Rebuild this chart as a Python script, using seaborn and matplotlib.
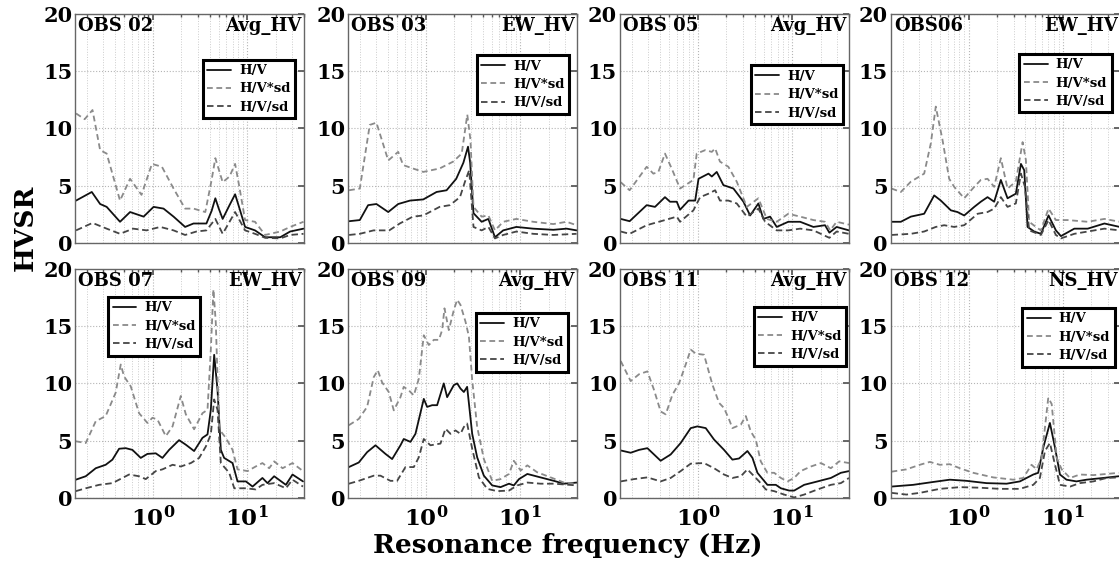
import numpy as np
import pandas as pd
import matplotlib
matplotlib.use("Agg")
import matplotlib.pyplot as plt
import seaborn as sns
from matplotlib.ticker import FixedLocator, FixedFormatter, LogLocator, NullFormatter

# ---------------- data (frequency Hz, HVSR) ----------------
stations = ["OBS 02", "OBS 03", "OBS 05", "OBS06", "OBS 07", "OBS 09", "OBS 11", "OBS 12"]
components = ["Avg_HV", "EW_HV", "Avg_HV", "EW_HV", "EW_HV", "Avg_HV", "Avg_HV", "NS_HV"]
series_labels = ["H/V", "H/V*sd", "H/V/sd"]
y_ticks = [0, 5, 10, 15, 20]
x_ticks = [1, 10]
x_tick_labels = [r"$\mathbf{10^{0}}$", r"$\mathbf{10^{1}}$"]

obs02_hv = [(0.154,3.7),(0.226,4.45),(0.277,3.4),(0.325,3.15),(0.45,1.85),(0.575,2.7),(0.80,2.3),(1.02,3.15),(1.3,3.0),(1.66,2.3),(2.2,1.4),(2.7,1.7),(3.7,1.7),(4.2,2.8),(4.6,3.9),(5.0,3.0),(5.5,2.1),(6.5,3.3),(7.45,4.25),(8.3,3.0),(9.5,1.4),(12.1,1.1),(15.5,0.5),(22.4,0.5),(28.5,1.0),(39.5,1.25)]
obs02_hvsd = [(0.154,11.3),(0.19,10.8),(0.23,11.6),(0.277,8.1),(0.325,7.8),(0.45,3.7),(0.575,5.6),(0.76,4.2),(0.98,6.9),(1.25,6.65),(1.66,4.75),(2.2,3.0),(2.7,3.0),(3.6,2.7),(4.2,5.5),(4.6,7.4),(5.5,5.3),(6.5,5.8),(7.45,6.9),(8.3,4.8),(9.5,2.0),(12.1,1.85),(15.5,0.7),(22.4,1.0),(28.5,1.4),(39.5,1.85)]
obs02_hvdsd = [(0.154,1.1),(0.23,1.75),(0.325,1.25),(0.45,0.8),(0.62,1.25),(0.86,1.1),(1.2,1.4),(1.66,1.1),(2.2,0.7),(2.9,1.0),(3.7,1.1),(4.6,2.1),(5.5,0.8),(7.45,2.7),(9.5,1.1),(12.1,0.8),(15.5,0.45),(22.4,0.4),(28.5,0.7),(39.5,0.8)]

obs03_hv = [(0.154,1.9),(0.2,2.0),(0.245,3.3),(0.3,3.4),(0.4,2.7),(0.51,3.4),(0.68,3.7),(0.94,3.8),(1.3,4.45),(1.66,4.6),(2.1,5.6),(2.5,7.0),(2.8,8.4),(2.95,7.0),(3.2,2.6),(3.9,1.85),(4.6,2.1),(5.4,0.5),(6.6,1.1),(9.1,1.4),(13.7,1.25),(22.4,1.15),(31,1.25),(39.5,1.1)]
obs03_hvsd = [(0.154,4.6),(0.2,4.75),(0.255,10.3),(0.3,10.5),(0.4,7.2),(0.51,7.95),(0.575,6.8),(0.73,6.5),(0.94,6.2),(1.4,6.5),(1.95,7.1),(2.4,7.8),(2.75,11.2),(2.97,9.0),(3.2,3.15),(3.9,2.3),(4.6,2.4),(5.4,1.1),(6.6,1.85),(9.1,2.1),(13.7,1.85),(22.4,1.65),(31,1.85),(39.5,1.55)]
obs03_hvdsd = [(0.154,0.7),(0.2,0.8),(0.28,1.1),(0.41,1.1),(0.53,1.7),(0.73,2.3),(0.94,2.4),(1.4,3.15),(1.8,3.3),(2.3,4.0),(2.6,5.35),(2.88,6.35),(3.2,1.4),(3.9,1.1),(4.6,1.4),(5.4,0.4),(6.6,0.7),(9.1,1.0),(13.7,0.8),(22.4,0.7),(39.5,0.8)]

obs05_hv = [(0.153,2.1),(0.19,1.9),(0.288,3.3),(0.353,3.15),(0.45,4.0),(0.509,3.6),(0.6,3.6),(0.65,2.9),(0.8,3.7),(0.94,3.7),(1.02,5.6),(1.3,6.05),(1.41,5.8),(1.59,6.2),(1.87,5.05),(2.39,4.75),(3.05,3.6),(3.59,2.4),(4.39,3.45),(4.96,2.1),(5.84,2.3),(6.87,1.4),(9.1,1.85),(12.15,1.85),(16.8,1.4),(22.3,1.55),(24.8,0.9),(29.6,1.4),(40,1.1)]
obs05_hvsd = [(0.153,5.3),(0.19,4.6),(0.288,6.65),(0.339,6.05),(0.383,6.2),(0.45,7.8),(0.53,6.5),(0.65,4.75),(0.9,5.5),(0.976,7.8),(1.2,8.1),(1.41,7.95),(1.53,8.25),(1.72,7.1),(2.11,6.65),(2.59,5.35),(3.31,3.15),(4.39,3.9),(5.39,2.1),(6.87,1.85),(9.1,2.55),(12.15,2.3),(16.8,2.0),(22.3,1.85),(25.3,1.1),(29.6,1.85),(40,1.6)]
obs05_hvdsd = [(0.153,1.0),(0.19,0.8),(0.288,1.55),(0.45,2.0),(0.6,2.3),(0.65,1.85),(0.9,2.85),(1.06,4.0),(1.3,4.3),(1.53,4.6),(1.72,3.7),(2.11,3.7),(2.59,3.45),(3.31,2.3),(4.39,3.0),(5.17,1.85),(6.87,1.1),(9.1,1.1),(12.15,1.25),(16.8,1.1),(24.8,0.45),(29.6,1.0),(40,0.8)]

obs06_hv = [(0.153,1.85),(0.192,1.85),(0.245,2.3),(0.339,2.55),(0.433,4.15),(0.509,3.7),(0.65,2.85),(0.764,2.7),(0.9,2.4),(1.15,3.15),(1.35,3.6),(1.59,4.0),(1.87,3.6),(2.2,5.5),(2.59,3.9),(3.17,4.3),(3.59,6.9),(3.89,6.35),(4.22,1.4),(4.96,1.0),(5.84,0.8),(7.04,2.4),(8.42,1.1),(9.52,0.6),(13.2,1.25),(18.3,1.25),(27.5,1.7),(40,1.4)]
obs06_hvsd = [(0.153,4.75),(0.192,4.45),(0.245,5.35),(0.339,6.05),(0.399,8.7),(0.45,11.9),(0.53,9.0),(0.624,5.6),(0.705,4.9),(0.9,3.9),(1.15,4.9),(1.35,5.5),(1.59,5.6),(1.87,4.9),(2.2,7.4),(2.59,4.75),(3.17,5.35),(3.74,8.8),(4.05,7.25),(4.39,1.85),(5.17,1.4),(5.84,1.1),(7.04,3.0),(8.42,2.0),(11.2,2.0),(18.3,1.85),(27.5,2.1),(40,1.85)]
obs06_hvdsd = [(0.153,0.7),(0.245,0.8),(0.339,1.0),(0.45,1.4),(0.552,1.55),(0.705,1.4),(0.9,1.55),(1.25,2.55),(1.59,2.7),(1.87,3.0),(2.2,4.0),(2.59,3.15),(3.17,3.45),(3.59,6.05),(3.96,4.9),(4.39,1.1),(5.84,0.7),(7.04,2.0),(8.42,0.7),(9.52,0.4),(13.2,0.8),(18.3,1.0),(27.5,1.25),(40,1.1)]

obs07_hv = [(0.153,1.6),(0.195,1.9),(0.249,2.6),(0.317,2.9),(0.374,3.35),(0.44,4.3),(0.517,4.35),(0.609,4.2),(0.746,3.5),(0.878,3.85),(1.076,3.9),(1.266,3.5),(1.49,4.2),(1.9,5.05),(2.24,4.65),(2.74,4.1),(3.36,5.25),(3.8,5.55),(4.12,7.7),(4.47,12.5),(4.85,9.45),(5.26,4.2),(5.7,3.5),(7.0,3.05),(7.9,1.45),(9.7,1.45),(11.4,1.0),(14.5,1.75),(16.4,1.3),(19.3,1.9),(25.7,1.15),(30.2,2.05),(39,1.45)]
obs07_hvsd = [(0.153,4.95),(0.195,4.8),(0.249,6.7),(0.317,7.15),(0.405,9.2),(0.458,11.65),(0.497,10.6),(0.584,9.75),(0.716,7.4),(0.878,6.55),(0.992,7.0),(1.12,6.85),(1.374,5.4),(1.62,6.25),(1.98,8.9),(2.24,7.3),(2.74,6.0),(3.36,7.4),(3.8,7.7),(4.12,12.95),(4.39,18.2),(4.65,15.3),(5.05,6.0),(5.94,5.25),(7.0,4.2),(7.9,2.5),(10.1,2.35),(12.3,2.75),(14.5,3.05),(17.1,2.6),(19.3,3.2),(23.7,2.6),(30.2,3.05),(39,2.35)]
obs07_hvdsd = [(0.153,0.6),(0.195,0.85),(0.27,1.15),(0.374,1.3),(0.44,1.6),(0.561,2.05),(0.716,1.9),(0.843,1.65),(1.076,2.35),(1.266,2.5),(1.62,2.9),(1.98,2.75),(2.53,3.05),(3.1,3.5),(3.65,4.5),(4.12,5.55),(4.47,8.6),(4.85,7.7),(5.26,3.05),(6.45,2.2),(7.3,0.85),(9.7,0.85),(12.3,0.75),(14.5,1.15),(19.3,1.3),(25.7,0.85),(30.2,1.6),(39,1.0)]

obs09_hv = [(0.153,2.7),(0.195,3.1),(0.239,4.0),(0.293,4.6),(0.374,3.85),(0.44,3.4),(0.539,4.6),(0.584,5.15),(0.688,4.9),(0.777,5.6),(0.952,8.65),(1.033,7.95),(1.167,8.1),(1.318,8.1),(1.55,10.0),(1.683,8.8),(1.98,9.85),(2.15,10.0),(2.33,9.55),(2.53,9.25),(2.74,9.7),(3.1,5.6),(3.5,3.55),(4.12,1.95),(5.05,1.1),(6.19,0.95),(7.6,1.25),(8.56,1.1),(9.7,1.65),(11.9,2.1),(16.4,1.8),(22.7,1.5),(29,1.25),(40,1.35)]
obs09_hvsd = [(0.153,6.35),(0.195,6.9),(0.239,7.95),(0.281,10.55),(0.31,11.15),(0.344,10.1),(0.405,9.25),(0.458,7.65),(0.539,8.8),(0.584,9.7),(0.66,9.4),(0.746,8.95),(0.843,10.4),(0.952,14.2),(1.076,13.35),(1.216,13.8),(1.374,13.8),(1.49,14.65),(1.577,16.55),(1.753,14.65),(1.98,16.4),(2.15,17.3),(2.33,16.85),(2.63,15.4),(2.86,14.1),(3.1,10.3),(3.5,6.2),(4.12,3.4),(5.05,1.5),(6.19,1.65),(7.6,2.1),(8.56,3.25),(10.1,2.4),(11.9,2.85),(15.1,2.25),(21,1.8),(29,1.35),(40,1.25)]
obs09_hvdsd = [(0.153,1.25),(0.195,1.5),(0.281,1.95),(0.331,1.95),(0.422,1.5),(0.497,1.5),(0.609,2.7),(0.746,2.7),(0.843,3.55),(0.952,5.15),(1.12,4.6),(1.43,4.75),(1.616,6.05),(1.826,5.6),(2.06,5.9),(2.33,5.6),(2.53,6.2),(2.74,6.5),(3.1,4.3),(3.65,1.8),(4.47,0.8),(5.7,0.6),(7.6,0.65),(9.3,1.1),(11.9,1.35),(16.4,1.25),(22.7,1.25),(40,1.1)]

obs11_hv = [(0.153,4.15),(0.195,3.95),(0.239,4.2),(0.293,4.35),(0.405,3.25),(0.517,3.8),(0.66,4.8),(0.843,6.1),(0.992,6.25),(1.216,6.1),(1.49,5.1),(1.9,4.2),(2.33,3.35),(2.74,3.45),(3.36,4.1),(3.8,3.5),(4.29,2.2),(5.47,1.15),(6.72,1.15),(7.6,0.85),(9.3,0.65),(10.5,0.65),(13.4,1.15),(18.6,1.45),(25.7,1.75),(32.8,2.2),(40,2.35)]
obs11_hvsd = [(0.153,11.95),(0.195,10.2),(0.239,10.8),(0.293,11.05),(0.344,9.45),(0.405,7.55),(0.458,7.3),(0.539,9.0),(0.634,10.0),(0.746,11.65),(0.843,12.95),(0.952,12.6),(1.167,12.5),(1.43,9.9),(1.683,8.3),(1.9,7.85),(2.15,6.85),(2.33,6.1),(2.86,6.4),(3.23,7.15),(3.65,5.8),(4.12,5.1),(4.65,3.2),(5.47,2.2),(6.45,2.2),(7.6,1.75),(8.94,1.45),(10.5,1.75),(12.3,2.35),(15.8,2.75),(20.2,3.05),(25.7,2.6),(31.5,3.2),(40,3.05)]
obs11_hvdsd = [(0.153,1.45),(0.211,1.65),(0.293,1.8),(0.405,1.45),(0.517,1.75),(0.66,2.35),(0.843,3.0),(1.167,3.05),(1.49,2.6),(1.9,2.05),(2.33,1.75),(2.86,1.9),(3.36,2.5),(3.8,2.05),(4.47,1.45),(5.26,0.75),(6.45,0.6),(8.24,0.3),(10.5,0.05),(13.4,0.3),(18.6,0.75),(25.7,1.15),(32.8,1.3),(40,1.75)]

obs12_hv = [(0.153,1.0),(0.259,1.15),(0.422,1.4),(0.634,1.6),(0.952,1.5),(1.55,1.3),(2.53,1.25),(3.5,1.45),(4.12,1.75),(4.85,2.05),(5.47,2.2),(6.19,4.4),(7.28,6.55),(8.24,4.4),(9.3,2.05),(10.9,1.6),(13.9,1.45),(17.8,1.6),(26.7,1.75),(39,1.9)]
obs12_hvsd = [(0.153,2.3),(0.22,2.5),(0.305,2.9),(0.389,3.15),(0.497,2.9),(0.634,2.95),(0.809,2.6),(1.12,2.2),(1.826,1.8),(2.97,1.6),(3.8,1.75),(4.65,2.9),(5.26,2.5),(5.94,3.5),(6.99,8.75),(7.6,8.2),(8.6,3.5),(9.7,2.5),(11.9,1.75),(15.1,2.05),(21,2.0),(29,2.1),(39,2.2)]
obs12_hvdsd = [(0.153,0.45),(0.22,0.3),(0.305,0.45),(0.497,0.8),(0.809,0.95),(1.318,0.9),(2.15,0.8),(3.5,0.8),(4.85,1.15),(5.7,1.75),(6.45,4.1),(7.28,4.8),(8.24,2.9),(9.3,1.15),(11.9,1.0),(15.1,1.3),(21,1.45),(29,1.75),(39,1.8)]

panel_series = [
    (obs02_hv, obs02_hvsd, obs02_hvdsd),
    (obs03_hv, obs03_hvsd, obs03_hvdsd),
    (obs05_hv, obs05_hvsd, obs05_hvdsd),
    (obs06_hv, obs06_hvsd, obs06_hvdsd),
    (obs07_hv, obs07_hvsd, obs07_hvdsd),
    (obs09_hv, obs09_hvsd, obs09_hvdsd),
    (obs11_hv, obs11_hvsd, obs11_hvdsd),
    (obs12_hv, obs12_hvsd, obs12_hvdsd),
]

# ---------------- style ----------------
line_colors = ["#111111", "#8a8a8a", "#454545"]
line_dashes = [None, (3.2, 2.0), (3.6, 2.0)]
line_widths = [1.3, 1.3, 1.3]
legend_pos = [((0.96, 0.80), "upper right"), ((0.965, 0.82), "upper right"),
              ((0.974, 0.775), "upper right"), ((0.965, 0.826), "upper right"),
              ((0.144, 0.878), "upper left"), ((0.96, 0.808), "upper right"),
              ((0.987, 0.834), "upper right"), ((0.978, 0.83), "upper right")]

sns.set_theme(style="white")
plt.rcParams["font.family"] = ["DejaVu Serif"]
plt.rcParams["font.weight"] = "bold"
plt.rcParams["mathtext.fontset"] = "dejavuserif"
plt.rcParams["text.color"] = "black"
plt.rcParams["xtick.color"] = "black"
plt.rcParams["ytick.color"] = "black"
plt.rcParams["xtick.labelcolor"] = "black"
plt.rcParams["ytick.labelcolor"] = "black"

fig = plt.figure(figsize=(11.19, 5.66), dpi=100)
lefts = [0.067, 0.311, 0.554, 0.796]
bottoms = [0.5707, 0.1201]
w, h = 0.2047, 0.405

for i in range(8):
    r, c = divmod(i, 4)
    ax = fig.add_axes([lefts[c], bottoms[r], w, h])
    for k, (lab, pts) in enumerate(zip(series_labels, panel_series[i])):
        df = pd.DataFrame(pts, columns=["freq", "hvsr"])
        sns.lineplot(data=df, x="freq", y="hvsr", ax=ax, color=line_colors[k],
                     lw=line_widths[k], label=lab, legend=False, sort=False,
                     estimator=None)
        ln = ax.lines[-1]
        if line_dashes[k] is not None:
            ln.set_dashes(line_dashes[k])
    ax.set_xscale("log")
    ax.set_xlim(0.15, 40)
    ax.set_ylim(0, 20)
    ax.set_yticks(y_ticks)
    ax.set_yticklabels([str(t) for t in y_ticks], fontsize=15, fontweight="bold")
    ax.xaxis.set_major_locator(FixedLocator(x_ticks))
    ax.xaxis.set_minor_locator(LogLocator(base=10, subs=np.arange(2, 10)))
    ax.xaxis.set_minor_formatter(NullFormatter())
    if r == 1:
        ax.xaxis.set_major_formatter(FixedFormatter(x_tick_labels))
        for t in ax.get_xticklabels():
            t.set_fontsize(16.5)
    else:
        ax.xaxis.set_major_formatter(NullFormatter())
    ax.set_xlabel("")
    ax.set_ylabel("")
    ax.grid(which="major", ls=":", color="#b5b5b5", lw=0.8)
    ax.grid(which="minor", axis="x", ls=":", color="#cccccc", lw=0.7)
    ax.tick_params(which="both", direction="in", top=True, right=True, color="#555555")
    ax.tick_params(which="major", length=4, pad=2)
    ax.tick_params(which="minor", length=2)
    ax.tick_params(axis="x", which="major", pad=6)
    for s in ax.spines.values():
        s.set_color("#666666")
        s.set_linewidth(1.0)
    ax.text(0.015, 0.985, stations[i], transform=ax.transAxes, ha="left", va="top",
            fontsize=13, fontweight="bold", color="black")
    ax.text(0.99, 0.985, components[i], transform=ax.transAxes, ha="right", va="top",
            fontsize=13, fontweight="bold", color="black")
    anchor, loc = legend_pos[i]
    leg = ax.legend(loc=loc, bbox_to_anchor=anchor, frameon=True, fancybox=False,
                    edgecolor="black", framealpha=1, prop={"size": 9.5, "weight": "bold"},
                    handlelength=1.8, handletextpad=0.6, borderpad=0.35,
                    labelspacing=0.4, borderaxespad=0)
    leg.get_frame().set_linewidth(2.2)

fig.text(0.507, 0.037, "Resonance frequency (Hz)", ha="center", va="center",
         fontsize=19, fontweight="bold")
fig.text(0.023, 0.597, "HVSR", ha="center", va="center", rotation=90,
         fontsize=19, fontweight="bold")

fig.savefig("out.png", dpi=100)
